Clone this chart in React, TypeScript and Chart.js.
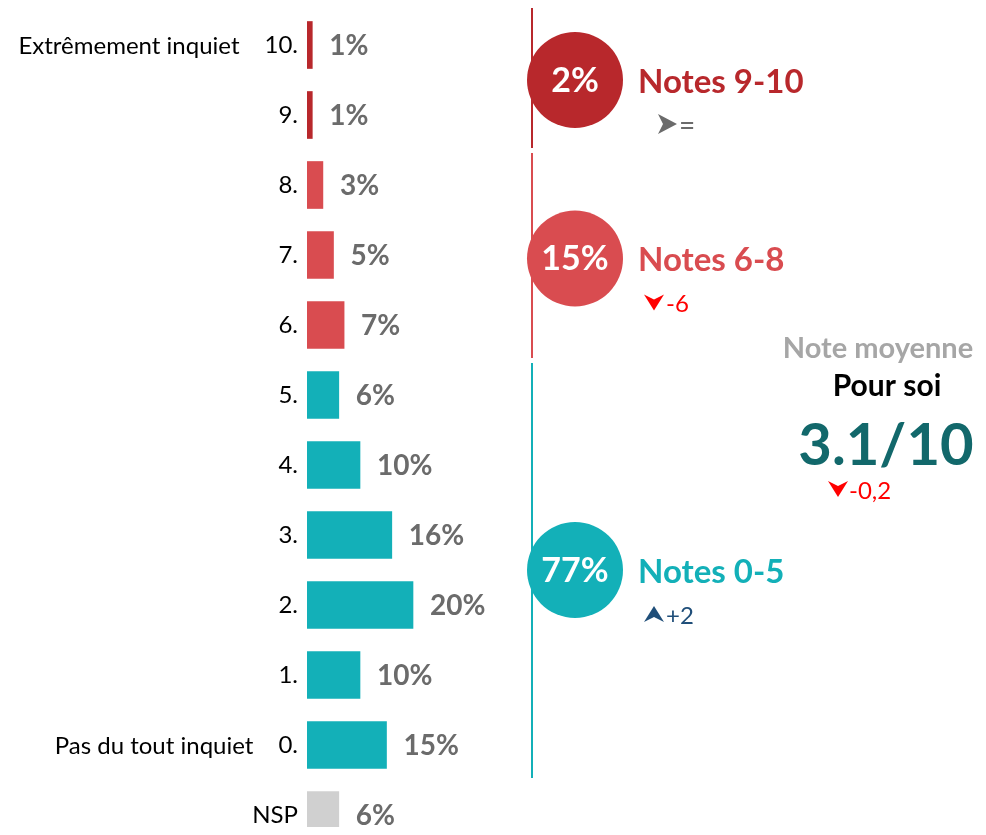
import React, { useEffect, useRef } from 'react';
import { Chart, registerables } from 'chart.js';

Chart.register(...registerables);

// ---- data ----
const categories = ['10.', '9.', '8.', '7.', '6.', '5.', '4.', '3.', '2.', '1.', '0.', 'NSP'];
const values = [1, 1, 3, 5, 7, 6, 10, 16, 20, 10, 15, 6];
const sideLabels = ['Extrêmement inquiet', '', '', '', '', '', '', '', '', '', 'Pas du tout inquiet', ''];

const groupNames = ['Notes 9-10', 'Notes 6-8', 'Notes 0-5'];
const groupTotals = ['2%', '15%', '77%'];
const groupFirst = [0, 2, 5];
const groupLast = [1, 4, 10];
const groupAnchor = [0.5, 3.05, 7.5];
const groupChanges = ['=', '-6', '+2'];
const groupTrends = ['flat', 'down', 'up'];

const meanTitle = 'Note moyenne';
const meanSubtitle = 'Pour soi';
const meanValue = '3.1/10';
const meanChange = '-0,2';
const meanTrend = 'down';

// ---- styles ----
const FONT = 'Lato, "Noto Sans", sans-serif';
const groupColors = ['#b8282c', '#d94c50', '#13b0b8'];
const nspColor = '#d0d0d0';
const trendColors: Record<string, string> = { flat: '#6b6b6b', down: '#ff0000', up: '#1f4e79' };

function colorFor(i: number): string {
  for (let g = 0; g < groupFirst.length; g++) {
    if (i >= groupFirst[g] && i <= groupLast[g]) return groupColors[g];
  }
  return nspColor;
}

function drawArrow(ctx: CanvasRenderingContext2D, trend: string, cx: number, cy: number) {
  ctx.save();
  ctx.fillStyle = trendColors[trend];
  ctx.beginPath();
  if (trend === 'down') {
    ctx.moveTo(cx - 10, cy - 8);
    ctx.lineTo(cx, cy - 3);
    ctx.lineTo(cx + 10, cy - 8);
    ctx.lineTo(cx, cy + 8);
  } else if (trend === 'up') {
    ctx.moveTo(cx - 10, cy + 8);
    ctx.lineTo(cx, cy + 3);
    ctx.lineTo(cx + 10, cy + 8);
    ctx.lineTo(cx, cy - 8);
  } else {
    ctx.moveTo(cx - 9, cy - 10);
    ctx.lineTo(cx + 10, cy);
    ctx.lineTo(cx - 9, cy + 10);
    ctx.lineTo(cx - 4, cy);
  }
  ctx.closePath();
  ctx.fill();
  ctx.restore();
}

const annotationPlugin = {
  id: 'annotations',
  afterDatasetsDraw(chart: any) {
    const ctx: CanvasRenderingContext2D = chart.ctx;
    const meta = chart.getDatasetMeta(0);
    const y = chart.scales.y;
    const band = (y.bottom - y.top) / categories.length;
    const pos = (v: number) => y.top + band * (v + 0.5);

    ctx.save();
    // value labels
    ctx.font = `bold 28px ${FONT}`;
    ctx.fillStyle = '#6b6b6b';
    ctx.textBaseline = 'middle';
    ctx.textAlign = 'left';
    meta.data.forEach((bar: any, i: number) => {
      ctx.fillText(values[i] + '%', bar.x + 17, bar.y + 1);
    });

    // side labels
    ctx.font = `24px ${FONT}`;
    ctx.fillStyle = '#000';
    ctx.textAlign = 'right';
    sideLabels.forEach((lab, i) => {
      if (!lab) return;
      const tw = ctx.measureText(categories[i]).width;
      ctx.fillText(lab, y.right - 9 - tw - 25, pos(i) + 1);
    });

    // groups
    const lineX = 524;
    const circleX = 567;
    const textX = 630;
    groupNames.forEach((name, g) => {
      const top = y.top + band * groupFirst[g] - (g === 0 ? 2 : -3);
      const bottom = y.top + band * (groupLast[g] + 1) - 2;
      ctx.strokeStyle = groupColors[g];
      ctx.lineWidth = 2;
      ctx.beginPath();
      ctx.moveTo(lineX, top);
      ctx.lineTo(lineX, bottom);
      ctx.stroke();

      const cy = pos(groupAnchor[g]);
      ctx.fillStyle = groupColors[g];
      ctx.beginPath();
      ctx.arc(circleX, cy, 48, 0, Math.PI * 2);
      ctx.fill();

      ctx.fillStyle = '#fff';
      ctx.textAlign = 'center';
      ctx.font = `bold 34px ${FONT}`;
      ctx.fillText(groupTotals[g], circleX, cy + 1);

      ctx.fillStyle = groupColors[g];
      ctx.textAlign = 'left';
      ctx.font = `bold 33px ${FONT}`;
      ctx.fillText(name, textX, cy + 2);

      const trend = groupTrends[g];
      const ay = cy + 44;
      const ax = trend === 'flat' ? 659 : 646;
      drawArrow(ctx, trend, ax, ay);
      ctx.fillStyle = trendColors[trend];
      ctx.font = `${trend === 'flat' ? 28 : 24}px ${FONT}`;
      ctx.fillText(groupChanges[g], ax + 12, ay + 2);
    });

    // mean block
    ctx.textAlign = 'center';
    ctx.fillStyle = '#a6a6a6';
    ctx.font = `bold 29px ${FONT}`;
    ctx.fillText(meanTitle, 870, 341);
    ctx.fillStyle = '#000';
    ctx.font = `bold 30px ${FONT}`;
    ctx.fillText(meanSubtitle, 879, 378);
    ctx.fillStyle = '#12686b';
    ctx.font = `bold 58px ${FONT}`;
    ctx.fillText(meanValue, 878, 438);
    drawArrow(ctx, meanTrend, 830, 481);
    ctx.fillStyle = trendColors[meanTrend];
    ctx.textAlign = 'left';
    ctx.font = `24px ${FONT}`;
    ctx.fillText(meanChange, 841, 483);
    ctx.restore();
  },
};

export default function App() {
  const ref = useRef<HTMLCanvasElement | null>(null);

  useEffect(() => {
    if (!ref.current) return;
    const chart = new Chart(ref.current, {
      type: 'bar',
      data: {
        labels: categories,
        datasets: [
          {
            data: values,
            backgroundColor: values.map((_, i) => colorFor(i)),
            barThickness: 47,
            borderWidth: 0,
          },
        ],
      },
      options: {
        indexAxis: 'y',
        responsive: false,
        animation: false,
        devicePixelRatio: 1,
        layout: { padding: { top: 2, bottom: 8, left: 0, right: 141 } },
        plugins: {
          legend: { display: false },
          tooltip: { enabled: false },
        },
        scales: {
          x: { display: false, min: 0, max: 100 },
          y: {
            afterFit: (scale: any) => {
              scale.width = 299;
              scale.paddingTop = 0;
              scale.paddingBottom = 0;
            },
            grid: { display: false, drawTicks: false },
            border: { display: false },
            ticks: {
              color: '#000',
              padding: 9,
              font: { family: FONT, size: 24 },
            },
          },
        },
      },
      plugins: [annotationPlugin],
    });
    return () => chart.destroy();
  }, []);

  return (
    <div style={{ height: 827, overflow: 'hidden', marginBottom: -8 }}>
      <canvas ref={ref} width={970} height={850} style={{ display: 'block', width: 970, height: 850 }} />
    </div>
  );
}
